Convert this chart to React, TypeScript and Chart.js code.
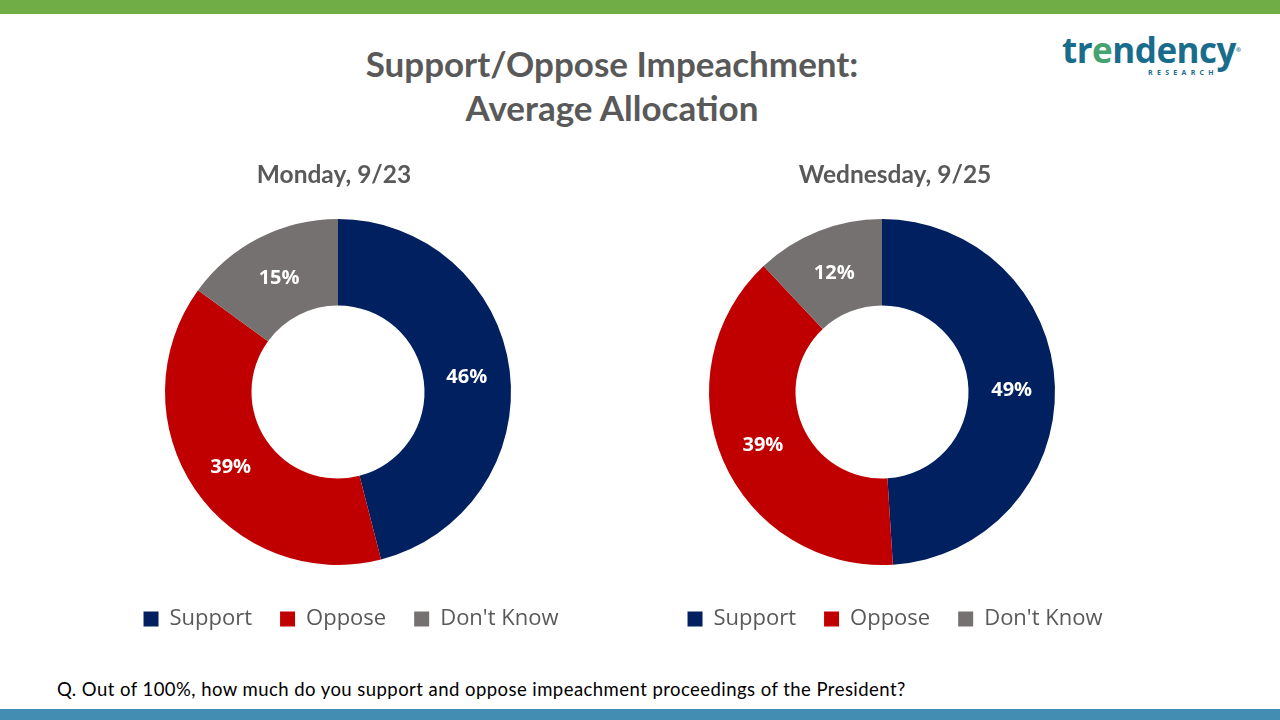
import React, { useEffect, useRef } from "react";
import { Chart, registerables } from "chart.js";

Chart.register(...registerables);

const categories = ["Support", "Oppose", "Don't Know"];
const mondayValues = [46, 39, 15];
const wednesdayValues = [49, 39, 12];
const panelTitles = ["Monday, 9/23", "Wednesday, 9/25"];
const sliceColors = ["#002060", "#C00000", "#767171"];

const pctLabels = {
  id: "pctLabels",
  afterDatasetsDraw(chart: any) {
    const ctx = chart.ctx;
    const meta = chart.getDatasetMeta(0);
    const data = chart.data.datasets[0].data;
    ctx.save();
    ctx.fillStyle = "#FFFFFF";
    ctx.font = "bold 20px 'Open Sans'";
    ctx.textAlign = "center";
    ctx.textBaseline = "middle";
    meta.data.forEach((arc: any, i: number) => {
      const p = arc.tooltipPosition();
      ctx.fillText(data[i] + "%", p.x, p.y + 2);
    });
    ctx.restore();
  },
};

const shiftBoxes = {
  id: "shiftBoxes",
  afterLayout(chart: any, _args: any, opts: any) {
    const lg = chart.legend;
    if (lg) {
      lg.left += opts.legendDX || 0;
      lg.right += opts.legendDX || 0;
    }
    const tb = chart.titleBlock;
    if (tb) {
      tb.left += opts.titleDX || 0;
      tb.right += opts.titleDX || 0;
    }
  },
};

function Donut(props: { values: number[]; title: string; left: number; legendDX: number; titleDX: number }) {
  const ref = useRef<HTMLCanvasElement | null>(null);
  useEffect(() => {
    if (!ref.current) return;
    const chart = new Chart(ref.current, {
      type: "doughnut",
      data: {
        labels: categories,
        datasets: [
          {
            data: props.values,
            backgroundColor: sliceColors,
            borderColor: sliceColors,
            borderWidth: 0,
          },
        ],
      },
      options: {
        responsive: false,
        maintainAspectRatio: false,
        animation: false,
        radius: 173,
        cutout: "50%",
        layout: { padding: 0 },
        plugins: {
          tooltip: { enabled: false },
          title: {
            display: true,
            text: props.title,
            color: "#595959",
            font: { family: "Lato", size: 24.5, weight: "bold" },
            padding: { top: 10.3, bottom: 14.3 },
          },
          legend: {
            display: true,
            position: "bottom",
            labels: {
              boxWidth: 15,
              boxHeight: 15,
              padding: 28,
              color: "#595959",
              font: { family: "'Open Sans'", size: 22 },
            },
          },
          shiftBoxes: { legendDX: props.legendDX, titleDX: props.titleDX },
        } as any,
      },
      plugins: [pctLabels, shiftBoxes],
    } as any);
    return () => chart.destroy();
  }, []);
  return (
    <canvas
      ref={ref}
      width={500}
      height={490}
      style={{ position: "absolute", left: props.left, top: 150, width: 500, height: 490 }}
    />
  );
}

export default function App() {
  return (
    <div
      style={{
        position: "fixed",
        left: 0,
        top: 0,
        width: 1280,
        height: 720,
        background: "#FFFFFF",
        overflow: "hidden",
      }}
    >
      <div style={{ position: "absolute", left: 0, top: 0, width: 1280, height: 14, background: "#70AD47" }} />
      <div style={{ position: "absolute", left: 0, top: 709, width: 1280, height: 11, background: "#438CB2" }} />
      <div
        style={{
          position: "absolute",
          left: 262,
          top: 41,
          width: 700,
          textAlign: "center",
          fontFamily: "Lato",
          fontWeight: 700,
          fontSize: 35,
          lineHeight: "44px",
          color: "#595959",
        }}
      >
        Support/Oppose Impeachment:
        <br />
        Average Allocation
      </div>
      <div style={{ position: "absolute", left: 1062, top: 30, width: 200, height: 50 }}>
        <div
          style={{
            fontFamily: "'Open Sans'",
            fontWeight: 700,
            fontSize: 35,
            lineHeight: "40px",
            color: "#1A6C8C",
            letterSpacing: -0.5,
            whiteSpace: "nowrap",
          }}
        >
          tr<span style={{ color: "#45A36F" }}>e</span>ndency
          <sup style={{ fontSize: 6, verticalAlign: "top", color: "#1A6C8C" }}>®</sup>
        </div>
        <div
          style={{
            position: "absolute",
            left: 86,
            top: 38,
            fontFamily: "'Open Sans'",
            fontWeight: 700,
            fontSize: 7,
            letterSpacing: 4.3,
            color: "#1A6C8C",
            whiteSpace: "nowrap",
          }}
        >
          RESEARCH
        </div>
      </div>
      <Donut values={mondayValues} title={panelTitles[0]} left={88} legendDX={13} titleDX={-4} />
      <Donut values={wednesdayValues} title={panelTitles[1]} left={632} legendDX={13} titleDX={13} />
      <div
        style={{
          position: "absolute",
          left: 57,
          top: 679,
          fontFamily: "Lato",
          fontSize: 18.5,
          letterSpacing: 0.45,
          lineHeight: "20px",
          color: "#000000",
          whiteSpace: "nowrap",
        }}
      >
        Q. Out of 100%, how much do you support and oppose impeachment proceedings of the President?
      </div>
    </div>
  );
}
